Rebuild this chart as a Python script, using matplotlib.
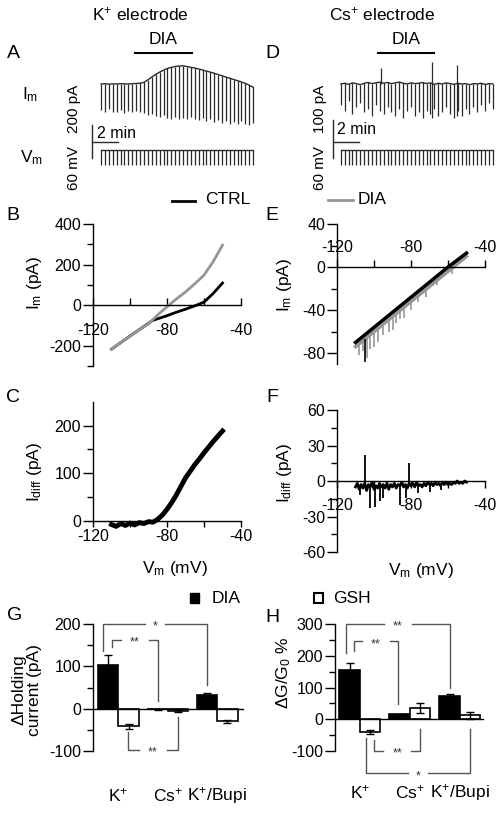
import numpy as np
import matplotlib
matplotlib.use("Agg")
import matplotlib.pyplot as plt
import matplotlib.transforms as mtransforms
from matplotlib.lines import Line2D
from matplotlib.patches import Rectangle

plt.rcParams['font.family'] = ['Liberation Sans', 'DejaVu Sans']
plt.rcParams['mathtext.fontset'] = 'custom'
plt.rcParams['mathtext.rm'] = 'Liberation Sans'
plt.rcParams['mathtext.it'] = 'Liberation Sans'
plt.rcParams['mathtext.default'] = 'regular'
plt.rcParams['axes.unicode_minus'] = False
plt.rcParams['axes.linewidth'] = 1.0

# ---------------- data ----------------
# A / D : test pulses every 0.3 min, holding current and pulse minimum (pA)
pulse_interval = 0.3
k_first_pulse = 0.7
k_hold = [0, 2, -1, 1, 0, 2, 1, 0, 2, 3, 5,
          10, 25, 42, 58, 72, 84, 94, 101, 106, 109, 110,
          106, 101, 97, 91, 85, 78, 72, 65, 57, 50, 42, 35, 27, 20, 12, 4, -8, -20]
k_pulse_min = [-160, -170, -150, -168, -172, -160, -175, -165, -170, -162, -168,
               -175, -185, -180, -195, -200, -190, -205, -210, -200, -215, -205,
               -210, -200, -215, -220, -205, -225, -215, -230, -220, -235, -225,
               -240, -230, -245, -225, -240, -250, -235]
k_dia_period = (3.3, 7.7)

cs_first_pulse = 0.6
cs_hold = [0, 2, -1, 3, 1, -2, 2, 4, 1, 3, 5, 2, 4, 1, 3, 5, 2, 0, 3, 1,
           2, 4, 1, 3, -1, 2, 0, 3, 1, -1, 2, 0, 1, -2, 1, 0, 2, -1, 1, 0]
cs_pulse_min = [-55, -70, -45, -80, -60, -50, -75, -65, -85, -55,
                -70, -80, -60, -75, -85, -65, -90, -70, -60, -85,
                -75, -90, -70, -80, -65, -85, -75, -60, -80, -90,
                -70, -85, -65, -80, -60, -75, -55, -70, -50, -65]
cs_spike_t = [3.7, 7.6, 9.55]
cs_spike_top = [42, 58, 50]
cs_spike_bottom = [0, -90, -85]
cs_dia_period = (3.46, 7.77)

vm_hold = -80
vm_step = -107

# B : I-V, K+ electrode
b_ctrl_v = [-110, -100, -90, -88, -80, -75, -70, -64, -60, -55, -50]
b_ctrl_i = [-217, -152, -90, -76, -52, -35, -20, 0, 15, 58, 109]
b_dia_v = [-110, -100, -90, -85, -80, -75, -70, -65, -60, -55, -50]
b_dia_i = [-217, -152, -92, -48, -8, 30, 65, 105, 148, 215, 296]

# C : difference current
c_v = [-110, -107.5, -105, -102.5, -100, -97.5, -95, -92.5, -90, -87.5, -85, -82.5,
       -80, -77.5, -75, -72.5, -70, -67.5, -65, -62.5, -60, -57.5, -55, -52.5, -50]
c_diff = [-8, -12, -6, -10, -5, -9, -4, -6, -2, -3, 3, 12,
          24, 38, 54, 72, 90, 104, 118, 130, 143, 155, 167, 178, 189]

# E : I-V, Cs+ electrode
e_v = [-110, -100, -90, -80, -70, -60, -50]
e_ctrl = [-70, -56, -42, -28, -14, 0, 13]
e_dia = [-74, -60, -46, -32, -18, -4, 10]
e_dia_spike_v = [-108, -106, -104, -102, -100, -98, -95, -92, -90, -88, -86, -84,
                 -80, -76, -72, -66, -58]
e_dia_spike_top = [-71, -68, -66, -63, -60, -57, -53, -49, -46, -43, -40, -38,
                   -32, -26, -21, -12, -1]
e_dia_spike_bottom = [-82, -78, -84, -76, -74, -70, -63, -60, -58, -52, -48, -47,
                      -40, -32, -28, -17, -6]
e_ctrl_spike_v = [-105]
e_ctrl_spike_top = [-67]
e_ctrl_spike_bottom = [-88]

# F : difference current, Cs+ electrode (1 mV steps from -110 to -50)
f_v = np.arange(-110, -49)
f_diff = [-5, -2, -7, -3, -6, -2, -8, -3, -5, -1,
          -7, -4, -6, -2, -5, -3, -6, -2, -7, -3,
          -5, -2, -6, -3, -4, -1, -5, -3, -6, -2,
          -4, -2, -5, -1, -4, -3, -5, -2, -4, -1,
          -3, -2, -4, -1, -3, -2, -4, -1, -3, -1,
          -3, -2, -3, -1, -2, 0, -2, -1, -2, 0,
          -1]
f_spike_v = [-107.5, -104.7, -102, -99.5, -97, -95, -86, -82.7, -81.2, -76, -70, -64]
f_spike_end = [-12, 22, -23, -22, -17, -14, -20, -14, 15, -10, -9, -8]

# G / H : bar charts
groups = ["K$^{+}$", "Cs$^{+}$", "K$^{+}$/Bupi"]
g_dia = [102, -1, 33]
g_dia_err = [24, 1, 4]
g_gsh = [-42, -6, -30]
g_gsh_err = [6, 2, 4]
h_dia = [155, 15, 72]
h_dia_err = [22, 3, 9]
h_gsh = [-39, 35, 12]
h_gsh_err = [6, 16, 12]

# ---------------- figure ----------------
W, H = 502.0, 813.0
fig = plt.figure(figsize=(W / 100, H / 100), dpi=100)
tr_col = '#2a2a2a'
gray = '#969696'
TICK = 11.5
LAB = 12.5


def px_axes(x0, y0, x1, y1):
    ax = fig.add_axes([x0 / W, 1 - y1 / H, (x1 - x0) / W, (y1 - y0) / H])
    ax.patch.set_alpha(0)
    return ax


def ftext(x, y, s, **kw):
    kw.setdefault('ha', 'center')
    kw.setdefault('va', 'center')
    kw.setdefault('fontsize', LAB)
    return fig.text(x / W, 1 - y / H, s, **kw)


def fline(xs, ys, **kw):
    fig.add_artist(Line2D([x / W for x in xs], [1 - y / H for y in ys],
                          transform=fig.transFigure, **kw))


def trace_panel(x0, x1, first, hold, pmin, kpx, bar_pA, dia, spikes=None):
    t = first + pulse_interval * np.arange(len(hold))
    ax = px_axes(x0, 40, x1, 160)
    ax.set_xlim(0, (x1 - x0) / 13.0)
    ax.set_ylim((84 - 160) * kpx, (84 - 40) * kpx)
    ax.axis('off')
    ax.plot(t, hold, color=tr_col, lw=1.0)
    ax.vlines(t, pmin, hold, color=tr_col, lw=0.9)
    if spikes is not None:
        ax.vlines(spikes[0], spikes[2], spikes[1], color=tr_col, lw=0.9)
    # scale bar
    sb_bot = (84 - 158) * kpx
    ax.plot([0, 0], [sb_bot, sb_bot + bar_pA], color=tr_col, lw=1, clip_on=False)
    ax.plot([0, 2], [(84 - 142) * kpx] * 2, color=tr_col, lw=1, clip_on=False)
    # drug application bar
    tr = mtransforms.blended_transform_factory(ax.transData, fig.transFigure)
    ax.plot(list(dia), [1 - 53 / H] * 2, color='k', lw=1.5, transform=tr, clip_on=False)
    ax.text(sum(dia) / 2, 1 - 40 / H, 'DIA', transform=tr, ha='center', va='center',
            fontsize=LAB)
    # Vm trace
    axv = px_axes(x0, 140, x1, 175)
    kv = 60 / 33.0
    axv.set_xlim(0, (x1 - x0) / 13.0)
    axv.set_ylim(vm_hold - (175 - 150) * kv, vm_hold + (150 - 140) * kv)
    axv.axis('off')
    axv.plot([t[0], t[-1]], [vm_hold, vm_hold], color=tr_col, lw=1.0)
    axv.vlines(t, vm_step, vm_hold, color=tr_col, lw=0.9)


trace_panel(92, 255, k_first_pulse, k_hold, k_pulse_min, 200 / 33.0, 200, k_dia_period)
trace_panel(333, 495, cs_first_pulse, cs_hold, cs_pulse_min, 100 / 38.0, 100, cs_dia_period,
            spikes=(cs_spike_t, cs_spike_top, cs_spike_bottom))

ftext(140, 14, 'K$^{+}$ electrode')
ftext(382, 14, 'Cs$^{+}$ electrode')
ftext(30, 95, 'I$_{m}$', fontsize=LAB)
ftext(31, 158, 'V$_{m}$', fontsize=LAB)
ftext(74, 109, '200 pA', rotation=90, fontsize=11)
ftext(74, 168, '60 mV', rotation=90, fontsize=11)
ftext(320, 109, '100 pA', rotation=90, fontsize=11)
ftext(320, 168, '60 mV', rotation=90, fontsize=11)
ftext(97, 133, '2 min', ha='left', fontsize=11.5)
ftext(337, 129, '2 min', ha='left', fontsize=11.5)


def style_iv(ax):
    for s in ['top', 'right']:
        ax.spines[s].set_visible(False)
    ax.set_xticks([-120, -80, -40])
    ax.set_xticks([-100, -60], minor=True)
    ax.tick_params(axis='y', which='major', direction='out', length=7, width=1,
                   pad=1.5, labelsize=TICK)
    ax.tick_params(axis='y', which='minor', direction='out', length=4, width=1)


# B
axB = px_axes(93, 224, 241, 366)
axB.set_xlim(-120, -40)
axB.set_ylim(-300, 400)
style_iv(axB)
axB.spines['bottom'].set_position(('data', 0))
axB.set_yticks([-200, 0, 200, 400])
axB.set_yticks([-300, -100, 100, 300], minor=True)
axB.tick_params(axis='x', which='both', direction='in', length=5, width=1, pad=13,
                labelsize=TICK)
axB.plot(b_ctrl_v, b_ctrl_i, color='k', lw=2)
axB.plot(b_dia_v, b_dia_i, color=gray, lw=2)

# E
axE = px_axes(337, 224, 485, 364)
axE.set_xlim(-120, -40)
axE.set_ylim(-90, 40)
for s in ['bottom', 'right']:
    axE.spines[s].set_visible(False)
axE.spines['top'].set_position(('data', 0))
axE.xaxis.set_ticks_position('top')
axE.set_xticks([-120, -80, -40])
axE.set_xticks([-100, -60], minor=True)
axE.set_yticks([-80, -40, 0, 40])
axE.set_yticks([-60, -20, 20], minor=True)
axE.tick_params(axis='y', which='major', direction='out', length=7, width=1, pad=1.5,
                labelsize=TICK)
axE.tick_params(axis='y', which='minor', direction='out', length=4, width=1)
axE.tick_params(axis='x', which='both', direction='out', length=5, width=1, pad=4,
                labelsize=TICK)
axE.plot(e_v, e_dia, color=gray, lw=2.5)
axE.vlines(e_dia_spike_v, e_dia_spike_bottom, e_dia_spike_top, color=gray, lw=1.2)
axE.plot(e_v, e_ctrl, color='k', lw=2.5)
axE.vlines(e_ctrl_spike_v, e_ctrl_spike_bottom, e_ctrl_spike_top, color='k', lw=1.2)

# C
axC = px_axes(93, 402, 241, 530.2)
axC.set_xlim(-120, -40)
axC.set_ylim(-20, 250)
style_iv(axC)
axC.spines['bottom'].set_position(('data', 0))
axC.spines['left'].set_bounds(0, 250)
axC.set_yticks([0, 100, 200])
axC.set_yticks([50, 150], minor=True)
axC.tick_params(axis='x', which='both', direction='out', length=4, width=1, pad=2,
                labelsize=TICK)
axC.plot(c_v, c_diff, color='k', lw=3.5)

# F
axF = px_axes(337, 410, 485, 552)
axF.set_xlim(-120, -40)
axF.set_ylim(-60, 60)
style_iv(axF)
axF.spines['bottom'].set_position(('data', 0))
axF.set_yticks([-60, -30, 0, 30, 60])
axF.set_yticks([-45, -15, 15, 45], minor=True)
axF.tick_params(axis='x', which='both', direction='out', length=5, width=1, pad=7,
                labelsize=TICK)
axF.plot(f_v, f_diff, color='k', lw=2)
axF.vlines(f_spike_v, -3, f_spike_end, color='k', lw=1.3)

# IV labels and legends
ftext(35, 283, 'I$_{m}$ (pA)', rotation=90)
ftext(284, 285, 'I$_{m}$ (pA)', rotation=90)
ftext(35, 472, 'I$_{diff}$ (pA)', rotation=90)
ftext(284, 473, 'I$_{diff}$ (pA)', rotation=90)
ftext(175, 568, 'V$_{m}$ (mV)')
ftext(421, 570, 'V$_{m}$ (mV)')
fline([172, 195], [200.7, 200.7], color='k', lw=2)
ftext(205, 200, 'CTRL', ha='left')
fline([328, 353], [200, 200], color=gray, lw=2)
ftext(358, 200, 'DIA', ha='left')

fig.add_artist(Rectangle((190 / W, 1 - 602.5 / H), 9.5 / W, 9.5 / H,
                         transform=fig.transFigure, fc='k', ec='k'))
ftext(212, 598, 'DIA', ha='left')
fig.add_artist(Rectangle((314 / W, 1 - 603 / H), 9.5 / W, 9.5 / H,
                         transform=fig.transFigure, fc='white', ec='k', lw=1.5))
ftext(333, 598, 'GSH', ha='left')


def bracket(ax, unit, xa, xb, y, ya, yb, label):
    xm = (xa + xb) / 2
    gap = (10 if label == '*' else 14) / unit
    kw = dict(color='#555555', lw=1, clip_on=False)
    ax.plot([xa, xa, xm - gap], [ya, y, y], **kw)
    ax.plot([xm + gap, xb, xb], [y, y, yb], **kw)
    ax.annotate(label, (xm, y), xytext=(0, -2), textcoords='offset points',
                ha='center', va='center', fontsize=9, color='#333333',
                annotation_clip=False)


def bar_panel(x0, x1, unit, ylim, dia, dia_err, gsh, gsh_err, yt, ytm, lab_y):
    ax = px_axes(x0, 624, x1, 751)
    centre = x0 + (25.5 if unit < 50 else 25)
    ax.set_xlim((x0 - centre) / unit, (x1 - centre) / unit)
    ax.set_ylim(*ylim)
    for s in ['top', 'right']:
        ax.spines[s].set_visible(False)
    ax.spines['bottom'].set_position(('data', 0))
    ax.set_xticks([])
    ax.set_yticks(yt)
    ax.set_yticks(ytm, minor=True)
    ax.tick_params(axis='y', which='major', direction='out', length=7, width=1, pad=1.5,
                   labelsize=TICK)
    ax.tick_params(axis='y', which='minor', direction='out', length=4, width=1)
    w = 20.5 / unit
    xg = np.arange(len(dia))
    xd = xg - w / 2
    xs = xg + w / 2
    ax.bar(xd, dia, w, color='k', edgecolor='k', lw=1.2)
    ax.bar(xs, gsh, w, color='white', edgecolor='k', lw=1.2)
    ax.errorbar(xd, dia, yerr=dia_err, fmt='none', ecolor='k', elinewidth=1,
                capsize=3, capthick=1)
    ax.errorbar(xs, gsh, yerr=gsh_err, fmt='none', ecolor='k', elinewidth=1,
                capsize=3, capthick=1)
    tr = mtransforms.blended_transform_factory(ax.transData, fig.transFigure)
    for x, g in zip(xg, groups):
        ax.text(x, 1 - lab_y / H, g, transform=tr, ha='center', va='center',
                fontsize=LAB)
    return ax, xd, xs


axG, xd, xs = bar_panel(93, 243, 49.3, (-100, 200), g_dia, g_dia_err, g_gsh, g_gsh_err,
                        [-100, 0, 100, 200], [-50, 50, 150], 795)
bracket(axG, 49.3, xd[0] - 0.1, xd[2], 200, 136, 55, '*')
bracket(axG, 49.3, xd[0] + 0.07, xd[1], 162, 145, 17, '**')
bracket(axG, 49.3, xs[0] - 0.02, xs[1], -98, -55, -19, '**')

axH, xd, xs = bar_panel(335, 483, 50.0, (-100, 300), h_dia, h_dia_err, h_gsh, h_gsh_err,
                        [-100, 0, 100, 200, 300], [-50, 50, 150, 250], 792)
bracket(axH, 50.0, xd[0] - 0.075, xd[2], 300, 208, 98, '**')
bracket(axH, 50.0, xd[0] + 0.08, xd[1] - 0.04, 245, 216, 47, '**')
bracket(axH, 50.0, xs[0] + 0.08, xs[1], -99, -65, -32, '**')
bracket(axH, 50.0, xs[0] - 0.085, xs[2], -170, -60, -32, '*')

ftext(27, 690, '\u0394Holding\ncurrent (pA)', rotation=90, linespacing=1.0)
ftext(284, 673, '\u0394G/G$_{0}$ %', rotation=90)

# panel letters
for x, y, s in [(13, 54, 'A'), (272, 53, 'D'), (13, 216, 'B'), (272, 216, 'E'),
                (13, 397, 'C'), (272, 397, 'F'), (15, 616, 'G'), (272, 617, 'H')]:
    ftext(x, y, s, fontsize=14)

fig.savefig('out.png', dpi=100)
